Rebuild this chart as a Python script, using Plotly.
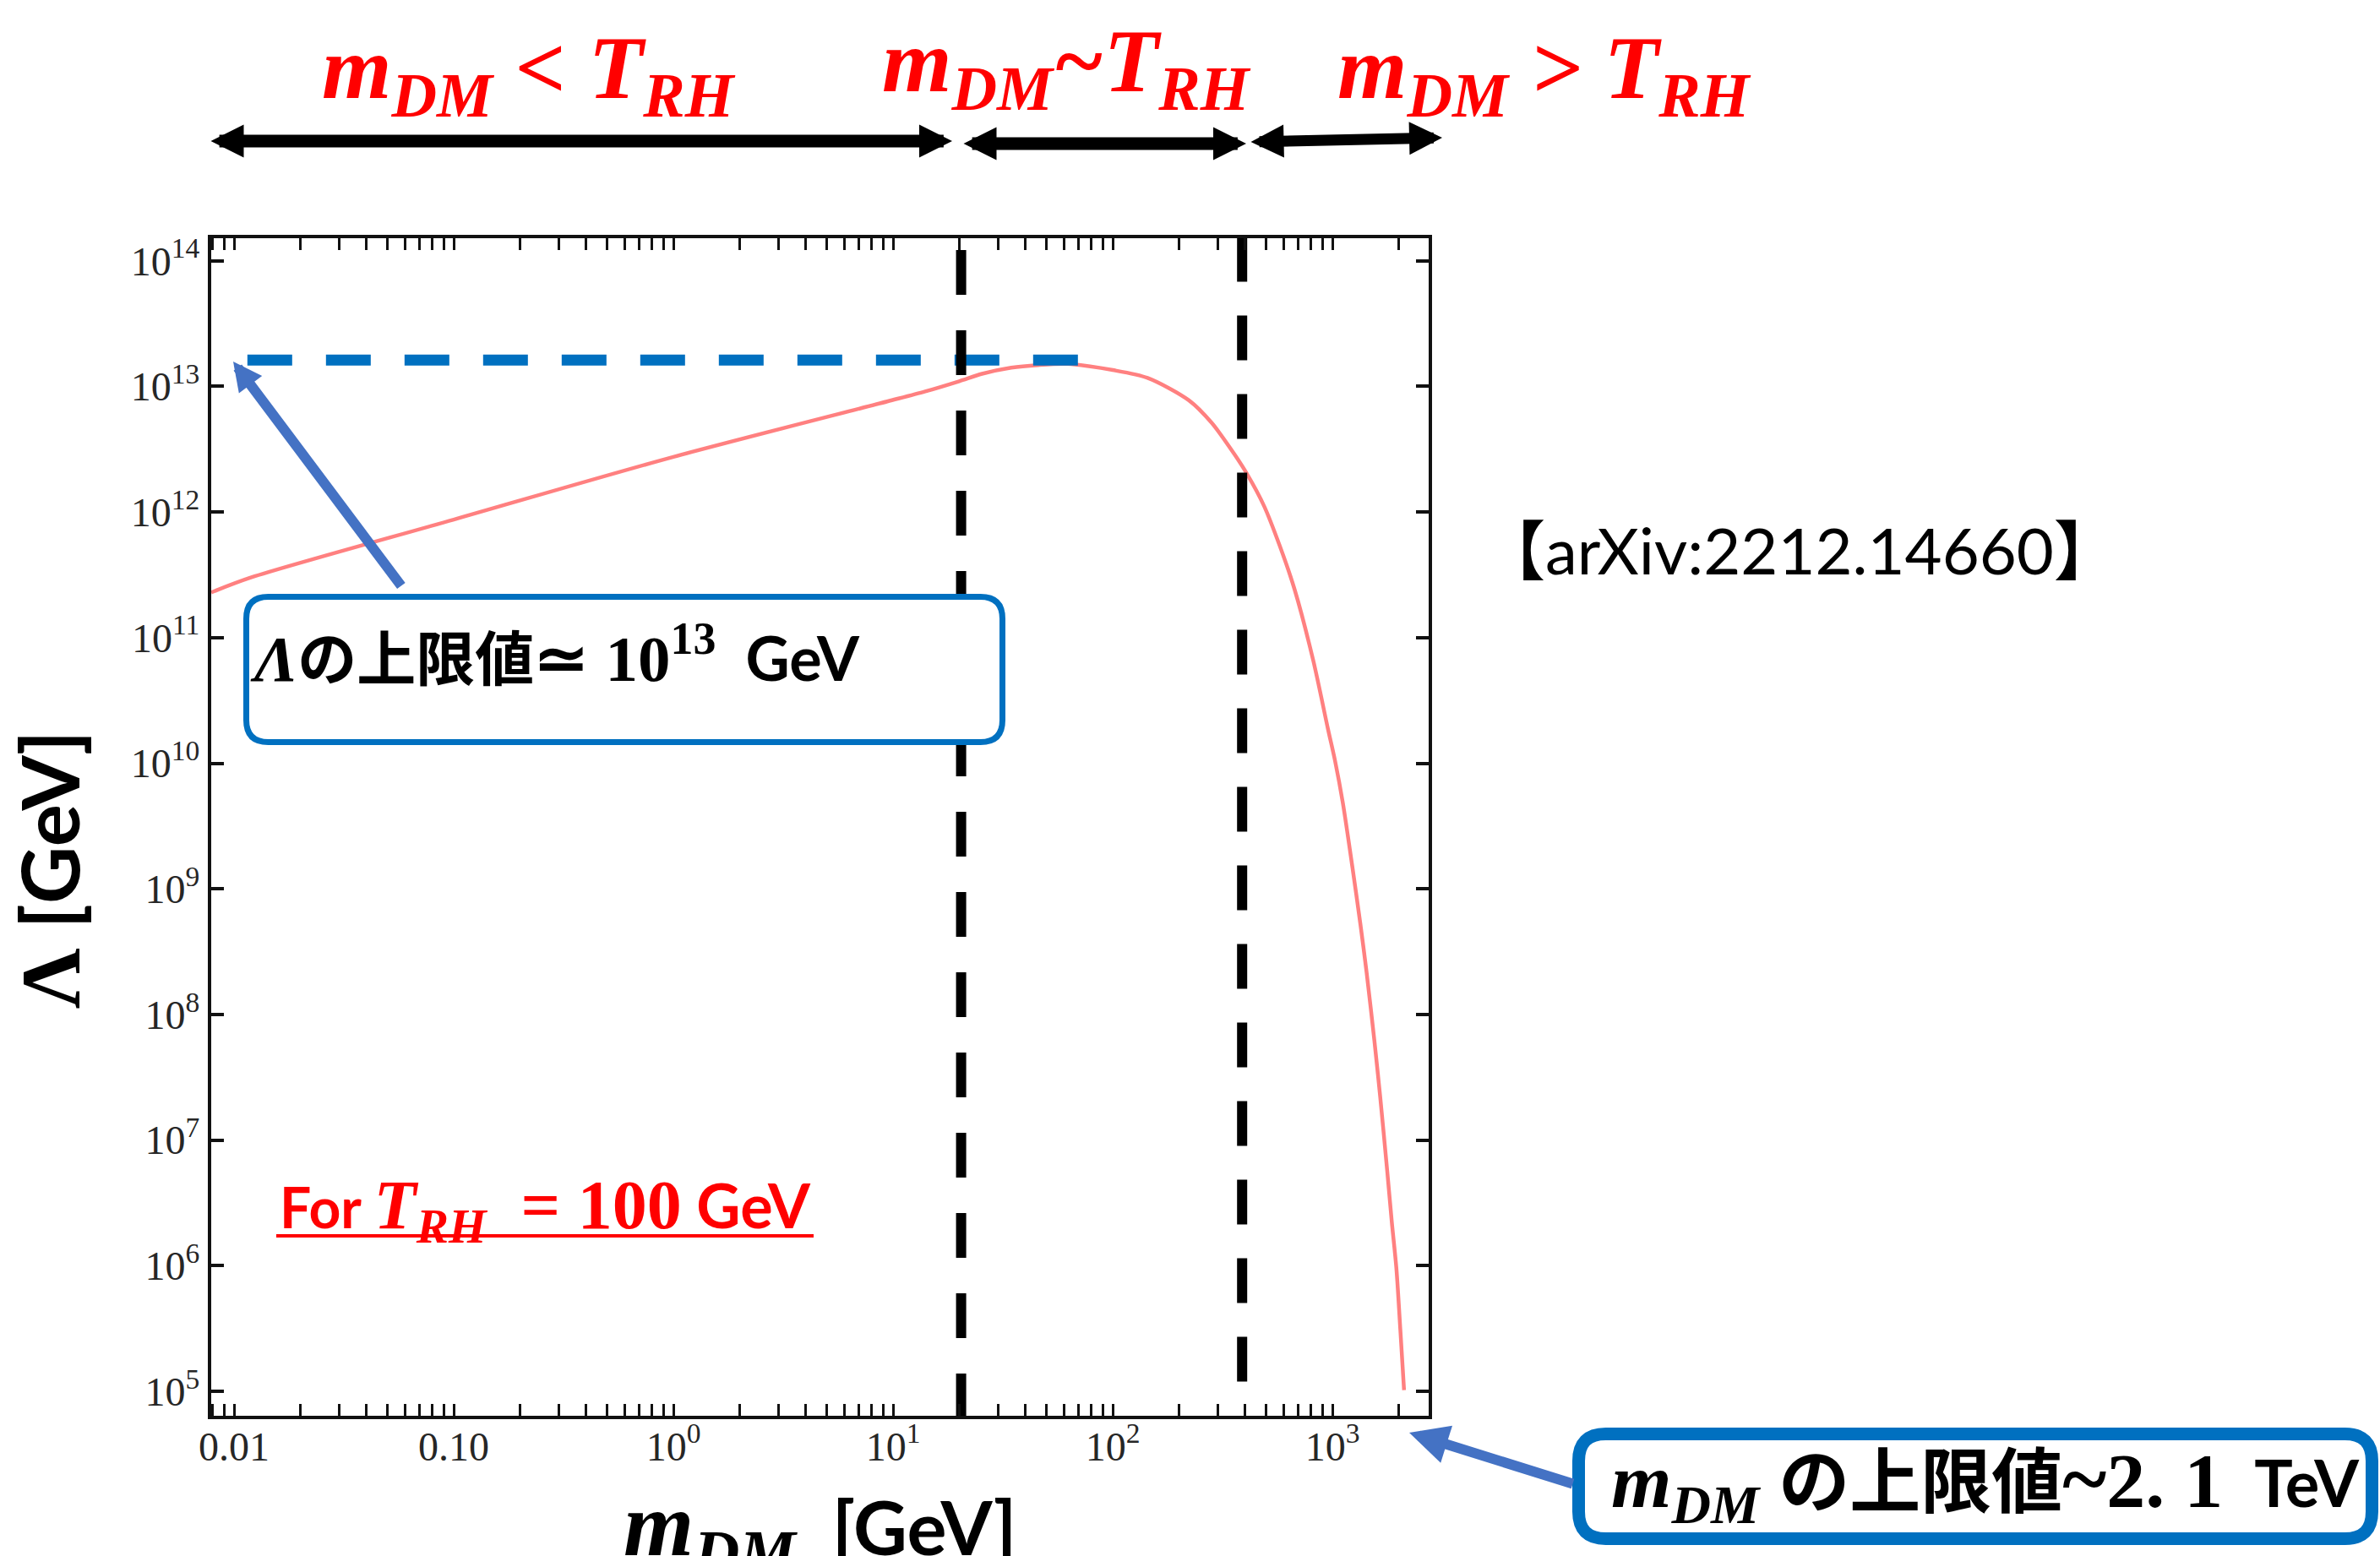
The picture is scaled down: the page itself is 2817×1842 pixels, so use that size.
import plotly.graph_objects as go

# ---------------- data ----------------
m_dm = [0.00787, 0.0120, 0.1, 1.0, 9.40, 14.0, 20.0, 25.4, 34.5, 45.7, 62.5, 100,
        144, 222, 282, 358, 409, 488, 573, 671, 817, 955, 1027, 1116, 1233, 1340,
        1429, 1552, 1648, 1774, 1862, 1954, 2037, 2118]
lam = [2.29e11, 3.02e11, 8.71e11, 2.75e12, 7.59e12, 9.12e12, 1.10e13, 1.26e13,
       1.41e13, 1.48e13, 1.51e13, 1.35e13, 1.17e13, 7.76e12, 5.13e12, 2.88e12,
       2.00e12, 1.12e12, 5.50e11, 2.45e11, 6.61e10, 1.86e10, 1.05e10, 4.79e9,
       1.48e9, 5.25e8, 2.19e8, 6.17e7, 2.24e7, 5.75e6, 2.24e6, 9.55e5, 3.09e5, 1.02e5]

upper_x = [0.0115, 71]
upper_y = [1.62e13, 1.62e13]

vline1_x = [20.4, 20.4]
vline1_y = [1.22e14, 5.0e4]
vline2_x = [388, 388]
vline2_y = [1.55e14, 1.15e5]

x_tickvals = [0.01, 0.1, 1, 10, 100, 1000]
x_ticktext = ["0.01", "0.10", "10<sup>0</sup>", "10<sup>1</sup>", "10<sup>2</sup>", "10<sup>3</sup>"]
y_tickvals = [1e5, 1e6, 1e7, 1e8, 1e9, 1e10, 1e11, 1e12, 1e13, 1e14]
y_ticktext = ["10<sup>%d</sup>" % k for k in range(5, 15)]
x_minor = [k * 10.0 ** e for e in range(-3, 4) for k in range(2, 10)]

# ---------------- geometry helpers ----------------
W, H = 2817, 1842
L, R, T, B = 250, 1691, 282, 1676
PW, PH = R - L, B - T


def px(x):
    return (x - L) / PW


def py(y):
    return (B - y) / PH


def rrect(x0, y0, x1, y1, r):
    pts = [
        f"M{px(x0 + r)},{py(y0)}",
        f"L{px(x1 - r)},{py(y0)}",
        f"Q{px(x1)},{py(y0)} {px(x1)},{py(y0 + r)}",
        f"L{px(x1)},{py(y1 - r)}",
        f"Q{px(x1)},{py(y1)} {px(x1 - r)},{py(y1)}",
        f"L{px(x0 + r)},{py(y1)}",
        f"Q{px(x0)},{py(y1)} {px(x0)},{py(y1 - r)}",
        f"L{px(x0)},{py(y0 + r)}",
        f"Q{px(x0)},{py(y0)} {px(x0 + r)},{py(y0)}",
        "Z",
    ]
    return " ".join(pts)


SERIF = "Liberation Serif"
SANS = "Lato"
RED = "#FF0000"
BLUE = "#0070C0"
ARROWBLUE = "#4472C4"
NB = "\u00a0"

fig = go.Figure()
fig.add_trace(go.Scatter(x=m_dm, y=lam, mode="lines",
                         line=dict(color="#FF8080", width=4.5, shape="spline", smoothing=0.8),
                         hoverinfo="skip"))
fig.add_trace(go.Scatter(x=upper_x, y=upper_y, mode="lines",
                         line=dict(color=BLUE, width=13, dash="53px,40px"), hoverinfo="skip"))
fig.add_trace(go.Scatter(x=vline1_x, y=vline1_y, mode="lines",
                         line=dict(color="black", width=12, dash="53px,42px"), hoverinfo="skip"))
fig.add_trace(go.Scatter(x=vline2_x, y=vline2_y, mode="lines",
                         line=dict(color="black", width=12, dash="53px,40px"), hoverinfo="skip"))

axis_common = dict(
    type="log", showgrid=False, zeroline=False, showline=True, linewidth=4,
    linecolor="#111111", mirror="allticks", ticks="inside", tickcolor="#111111",
    tickfont=dict(family=SERIF, size=48, color="#262626"),
)
fig.update_xaxes(range=[-2.104, 3.438], tickmode="array", tickvals=x_tickvals,
                 ticktext=x_ticktext, ticklen=14, tickwidth=3, ticklabelstandoff=-9,
                 minor=dict(ticks="inside", ticklen=14, tickwidth=3, tickcolor="#111111",
                            tickvals=x_minor, showgrid=False),
                 **axis_common)
fig.update_yaxes(range=[4.805, 14.18], tickmode="array", tickvals=y_tickvals,
                 ticktext=y_ticktext, ticklen=15, tickwidth=4, **axis_common)

shapes = [
    dict(type="path", xref="paper", yref="paper", path=rrect(291.5, 706.5, 1186.5, 878.5, 26),
         fillcolor="white", line=dict(color=BLUE, width=7), layer="above"),
    dict(type="path", xref="paper", yref="paper", path=rrect(1868.5, 1697.5, 2807.5, 1821.5, 32),
         fillcolor="white", line=dict(color=BLUE, width=15), layer="above"),
    dict(type="line", xref="paper", yref="paper", x0=px(327), x1=px(963), y0=py(1463), y1=py(1463),
         line=dict(color=RED, width=4), layer="above"),
]

ann = []


def arrow(tip, tail, color, width, size, both=False):
    d = dict(xref="paper", yref="paper", x=px(tip[0]), y=py(tip[1]),
             axref="pixel", ayref="pixel", ax=tail[0] - tip[0], ay=tail[1] - tip[1],
             text="", showarrow=True, arrowhead=2, arrowsize=size, arrowwidth=width,
             arrowcolor=color, standoff=0, startstandoff=0)
    if both:
        d.update(arrowside="end+start", startarrowhead=2, startarrowsize=size)
    ann.append(d)


# top double arrows
arrow((1127, 167), (248, 167), "black", 15, 0.52, both=True)
arrow((1475, 170), (1139, 170), "black", 15, 0.52, both=True)
arrow((1707, 163), (1479, 168), "black", 13, 0.6, both=True)
# blue pointer arrows
arrow((276, 428), (476, 695), ARROWBLUE, 12, 0.57)
arrow((1668, 1696), (1863, 1757), ARROWBLUE, 12, 0.77)


def text(x, y, s, size, color="black", family=SERIF, xanchor="center", yanchor="middle", angle=0):
    ann.append(dict(xref="paper", yref="paper", x=px(x), y=py(y), text=s, showarrow=False,
                    xanchor=xanchor, yanchor=yanchor, textangle=angle,
                    font=dict(family=family, size=size, color=color)))


# region labels on top
text(626, 88, "<b><i>m<sub>DM</sub> &lt; T<sub>RH</sub></i></b>", 106, RED)
text(1262, 80, "<b><i>m<sub>DM</sub>~T<sub>RH</sub></i></b>", 106, RED)
text(1828, 88, "<b><i>m<sub>DM</sub> &gt; T<sub>RH</sub></i></b>", 106, RED)

# reference tag
text(2130, 647, "<span style=\"font-family:'Noto Sans CJK JP';font-weight:bold\">【</span>"
     "arXiv:2212.14660"
     "<span style=\"font-family:'Noto Sans CJK JP';font-weight:bold\">】</span>", 76, "black", SANS)

# box 1 text
text(294, 775,
     "<b><i>Λ</i></b>"
     "<span style=\"font-family:'Noto Sans CJK JP';font-weight:bold;font-size:70px\">の上限値</span>"
     "<b>≃ 10<sup>13</sup></b>"
     "<span style=\"font-family:Lato;font-weight:bold;font-size:72px\">" + NB + " GeV</span>",
     77, "black", SERIF, xanchor="left")

# box 2 text
text(1905, 1752,
     "<b><i>m<sub>DM</sub></i></b> "
     "<span style=\"font-family:'Noto Sans CJK JP';font-weight:bold;font-size:84px\">の上限値</span>"
     "<b><span style=\"font-size:100px\">~</span>2." + NB + "1</b>"
     "<span style=\"font-family:Lato;font-weight:bold;font-size:76px\">" + NB + " TeV</span>",
     92, "black", SERIF, xanchor="left")

# T_RH note
text(329, 1432,
     "<span style=\"font-family:Lato;font-weight:bold;font-size:66px\">For </span>"
     "<b><i>T<sub>RH</sub></i></b><b>  = 100</b>"
     "<span style=\"font-family:Lato;font-weight:bold;font-size:72px\"> GeV</span>",
     82, RED, SERIF, xanchor="left")

# axis titles
text(970, 1812,
     "<b><i>m<sub>DM</sub></i></b>"
     "<span style=\"font-family:Lato;font-weight:bold;font-size:88px\">  [GeV]</span>",
     107, "black", SERIF)
text(58, 1030,
     "<b>Λ</b><span style=\"font-family:Lato;font-weight:bold;font-size:94px\"> [GeV]</span>",
     100, "black", SERIF, angle=-90)

fig.update_layout(
    width=W, height=H, autosize=False,
    margin=dict(l=L, r=W - R, t=T, b=H - B, pad=0),
    paper_bgcolor="white", plot_bgcolor="white",
    showlegend=False, shapes=shapes, annotations=ann,
)

fig.write_html("out.html", config={"displayModeBar": False},
               post_script="document.body.style.margin='0';document.body.style.overflow='hidden';")
